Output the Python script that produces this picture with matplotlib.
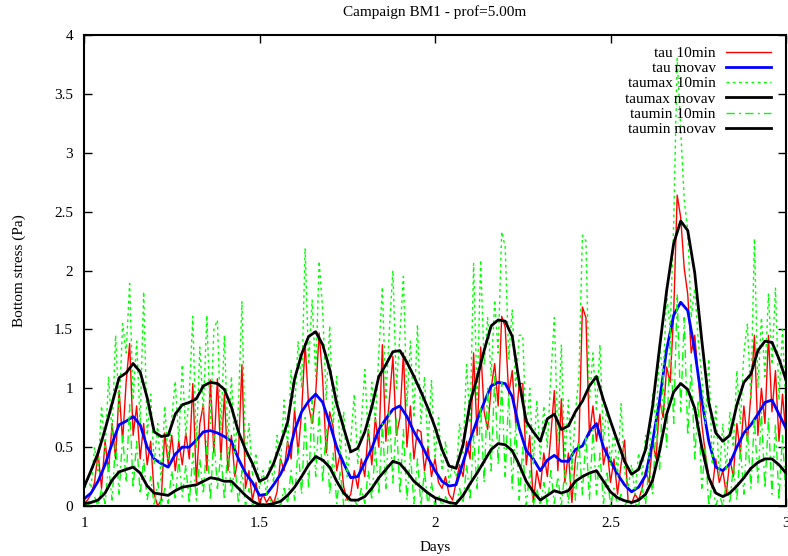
import numpy as np
import matplotlib
matplotlib.use("Agg")
import matplotlib.pyplot as plt

plt.rcParams['font.family'] = ['Liberation Serif', 'DejaVu Serif']

title = "Campaign BM1 - prof=5.00m"
xlabel = "Days"
ylabel = "Bottom stress (Pa)"

# 10-minute series sampled every 0.01 day from 1.00 to 3.00
days_10 = np.round(np.arange(1.00, 3.0001, 0.01), 2)

tau_10 = [
 0.02,0.05,0.10,0.20,0.45,0.15,0.55,0.30,0.70,0.40,
 0.98,0.55,1.05,1.38,0.60,0.85,0.40,0.70,0.35,0.55,
 0.10,0.00,0.05,0.62,0.35,0.60,0.30,0.55,0.35,0.62,
 0.40,1.04,0.20,0.70,0.86,0.30,1.07,0.45,1.08,0.40,
 0.95,0.30,0.60,0.25,0.45,1.20,0.15,0.30,0.05,0.20,
 0.02,0.10,0.03,0.08,0.02,0.12,0.40,0.30,0.55,0.40,
 0.82,0.45,0.80,1.38,0.85,0.70,0.95,1.47,1.07,0.45,
 0.80,0.67,0.30,0.45,0.16,0.05,0.10,0.30,0.15,0.40,
 0.25,0.65,0.35,0.75,0.50,1.37,0.55,0.90,1.27,0.60,
 0.75,1.30,0.50,0.85,0.40,0.65,0.63,0.30,0.50,0.25,
 0.40,0.20,0.15,0.25,0.10,0.05,0.20,0.35,0.25,0.55,
 0.40,1.30,0.60,1.35,0.80,0.65,1.00,1.21,0.85,1.61,
 1.52,0.95,1.15,0.70,1.04,1.04,0.35,0.60,0.03,0.30,
 0.15,0.45,0.25,0.60,0.98,0.30,0.91,0.20,0.45,0.03,
 0.40,0.55,1.69,1.60,0.60,0.85,0.55,0.78,0.35,0.50,
 0.20,0.40,0.10,0.35,0.56,0.05,0.02,0.10,0.05,0.15,
 0.30,0.20,0.55,0.40,0.90,0.75,1.18,1.05,1.64,2.64,
 2.45,2.02,1.80,1.30,1.45,1.10,0.70,0.45,0.25,0.15,
 0.40,0.20,0.30,0.10,0.40,0.25,0.70,0.45,0.85,0.55,
 0.95,1.45,0.60,1.00,0.70,1.45,0.80,1.15,0.55,0.95,
 0.60]

taumax_10 = [
 0.10,0.25,0.15,0.50,0.30,0.85,0.45,1.10,0.60,1.45,
 0.80,1.55,1.30,1.89,0.90,1.40,0.70,1.82,0.60,0.95,
 0.35,0.70,0.20,0.85,0.40,0.75,1.06,0.55,1.20,0.60,
 0.95,1.61,0.50,1.35,0.80,1.62,0.70,1.50,1.58,0.65,
 1.45,0.55,1.10,0.45,0.85,1.74,0.40,0.70,0.25,0.45,
 0.15,0.30,0.10,0.40,0.20,0.60,0.35,0.90,0.50,1.15,
 0.80,1.40,1.00,2.19,1.20,1.75,1.10,2.08,1.66,0.90,
 1.53,0.70,1.10,0.45,0.80,0.25,0.55,0.95,0.35,0.70,
 1.16,0.55,1.05,0.70,1.30,1.86,0.90,1.50,2.00,1.00,
 1.45,1.95,0.85,1.40,0.75,1.54,0.70,1.10,0.50,1.07,
 0.40,0.75,0.30,0.55,0.20,0.35,0.25,0.70,0.45,1.20,
 0.70,2.06,0.90,2.09,1.20,1.60,1.10,1.75,1.30,2.33,
 2.20,1.25,1.67,1.00,1.45,1.45,0.60,1.00,0.35,0.90,
 0.40,0.85,0.50,1.10,1.60,0.55,1.37,0.40,0.90,0.30,
 0.80,1.10,2.30,2.25,0.90,1.30,0.80,1.37,0.55,0.85,
 0.35,0.65,0.25,0.87,0.30,0.15,0.35,0.10,0.45,0.25,
 0.60,0.40,0.95,0.70,1.35,1.10,1.80,1.50,2.40,3.80,
 3.20,2.60,2.34,1.60,1.85,1.40,1.10,0.70,1.25,0.35,
 0.85,0.25,0.70,0.30,0.80,0.50,1.15,0.70,1.30,1.55,
 0.90,2.27,1.00,1.60,1.10,1.80,1.20,1.85,0.90,1.50,
 0.80]

taumin_10 = [
 0.00,0.02,0.00,0.08,0.00,0.15,0.02,0.35,0.05,0.55,
 0.10,0.60,0.20,0.86,0.15,0.55,0.10,0.40,0.05,0.25,
 0.00,0.20,0.00,0.15,0.02,0.30,0.05,0.40,0.08,0.35,
 0.02,0.45,0.05,0.40,0.10,0.55,0.05,0.60,0.15,0.45,
 0.05,0.50,0.10,0.35,0.02,0.30,0.00,0.15,0.00,0.05,
 0.00,0.02,0.00,0.05,0.00,0.08,0.00,0.15,0.02,0.30,
 0.05,0.50,0.10,0.75,0.15,0.90,0.25,0.80,0.20,0.65,
 0.10,0.45,0.02,0.30,0.00,0.10,0.00,0.05,0.00,0.15,
 0.02,0.30,0.05,0.50,0.10,0.70,0.15,0.80,0.20,0.75,
 0.10,0.65,0.05,0.45,0.02,0.40,0.00,0.30,0.00,0.20,
 0.00,0.10,0.00,0.08,0.00,0.02,0.00,0.15,0.02,0.35,
 0.05,0.60,0.15,0.85,0.20,1.00,0.30,1.10,0.35,1.05,
 0.25,0.95,0.15,0.70,0.05,0.50,0.00,0.30,0.00,0.15,
 0.00,0.20,0.00,0.30,0.02,0.25,0.00,0.30,0.02,0.40,
 0.05,0.55,0.10,0.60,0.05,0.65,0.10,0.45,0.02,0.30,
 0.00,0.15,0.00,0.10,0.00,0.05,0.00,0.02,0.00,0.15,
 0.02,0.35,0.10,0.70,0.30,1.10,0.50,1.50,0.70,1.80,
 0.80,1.60,0.60,1.20,0.40,0.90,0.15,0.50,0.00,0.20,
 0.00,0.10,0.00,0.20,0.02,0.35,0.05,0.50,0.10,0.65,
 0.15,0.75,0.20,0.80,0.15,0.75,0.10,0.70,0.05,0.60,
 0.05]

# moving averages sampled every 0.02 day from 1.00 to 3.00
days_mv = np.round(np.arange(1.00, 3.0001, 0.02), 2)

tau_mv = [
 0.06,0.11,0.21,0.35,0.53,0.69,0.72,0.76,0.69,0.50,
 0.40,0.36,0.33,0.44,0.50,0.50,0.56,0.63,0.64,0.62,
 0.59,0.55,0.40,0.28,0.20,0.09,0.10,0.18,0.27,0.40,
 0.64,0.80,0.89,0.95,0.88,0.70,0.50,0.36,0.24,0.25,
 0.37,0.49,0.65,0.74,0.82,0.85,0.76,0.63,0.53,0.41,
 0.30,0.21,0.17,0.18,0.37,0.56,0.73,0.88,1.02,1.05,
 1.04,0.93,0.66,0.47,0.40,0.30,0.39,0.43,0.38,0.38,
 0.48,0.51,0.63,0.70,0.50,0.38,0.27,0.18,0.12,0.16,
 0.26,0.55,0.90,1.33,1.62,1.73,1.66,1.32,0.90,0.55,
 0.33,0.30,0.36,0.50,0.62,0.69,0.78,0.88,0.90,0.78,
 0.66]

taumax_mv = [
 0.16,0.30,0.45,0.65,0.87,1.09,1.13,1.21,1.14,0.92,
 0.63,0.59,0.60,0.78,0.86,0.88,0.91,1.02,1.05,1.04,
 0.99,0.84,0.63,0.48,0.36,0.21,0.24,0.36,0.53,0.71,
 1.08,1.29,1.44,1.48,1.37,1.16,0.87,0.66,0.46,0.49,
 0.63,0.84,1.10,1.20,1.31,1.32,1.22,1.10,0.97,0.83,
 0.67,0.48,0.34,0.32,0.52,0.88,1.09,1.32,1.53,1.58,
 1.57,1.44,1.05,0.72,0.63,0.55,0.74,0.78,0.65,0.68,
 0.80,0.89,1.02,1.10,0.90,0.72,0.55,0.38,0.27,0.31,
 0.48,0.85,1.35,1.83,2.23,2.42,2.34,1.98,1.41,0.88,
 0.62,0.55,0.60,0.86,1.05,1.12,1.32,1.40,1.39,1.25,
 1.07]

taumin_mv = [
 0.02,0.03,0.05,0.11,0.22,0.29,0.31,0.33,0.28,0.17,
 0.11,0.10,0.09,0.13,0.16,0.17,0.18,0.21,0.24,0.23,
 0.21,0.21,0.15,0.09,0.04,0.01,0.01,0.02,0.04,0.09,
 0.16,0.25,0.35,0.42,0.39,0.33,0.21,0.11,0.05,0.05,
 0.08,0.15,0.24,0.31,0.38,0.36,0.29,0.21,0.16,0.11,
 0.07,0.05,0.03,0.02,0.09,0.19,0.28,0.38,0.48,0.53,
 0.52,0.47,0.35,0.21,0.12,0.05,0.09,0.13,0.11,0.13,
 0.21,0.25,0.28,0.30,0.21,0.12,0.07,0.045,0.03,0.05,
 0.10,0.22,0.47,0.78,0.97,1.04,0.99,0.83,0.50,0.24,
 0.11,0.08,0.11,0.17,0.24,0.32,0.37,0.40,0.40,0.35,
 0.28]

labels = ["tau 10min", "tau movav", "taumax 10min", "taumax movav",
          "taumin 10min", "taumin movav"]

xticks = [1, 1.5, 2, 2.5, 3]
xtick_labels = ["1", "1.5", "2", "2.5", "3"]
yticks = [0, 0.5, 1, 1.5, 2, 2.5, 3, 3.5, 4]
ytick_labels = ["0", "0.5", "1", "1.5", "2", "2.5", "3", "3.5", "4"]

fig = plt.figure(figsize=(7.88, 5.56), dpi=100)
ax = fig.add_axes([84/788, 50/556, (786-84)/788, (506-35)/556])

ax.plot(days_10, tau_10, color='#ff0000', lw=1.0, label=labels[0])
ax.plot(days_mv, tau_mv, color='#0000ff', lw=2.0, label=labels[1])
ax.plot(days_10, taumax_10, color='#00ff00', lw=1.0, linestyle=(0, (2, 2.5)), label=labels[2])
ax.plot(days_mv, taumax_mv, color='black', lw=2.0, label=labels[3])
ax.plot(days_10, taumin_10, color='#00ff00', lw=1.0, linestyle=(0, (6, 3, 1.5, 3)), label=labels[4])
ax.plot(days_mv, taumin_mv, color='black', lw=2.0, label=labels[5])

ax.set_xlim(1, 3)
ax.set_ylim(0, 4)
ax.set_xticks(xticks)
ax.set_xticklabels(xtick_labels)
ax.set_yticks(yticks)
ax.set_yticklabels(ytick_labels)
ax.tick_params(direction='in', length=6, width=1, top=True, right=True,
               labelsize=11, pad=8)
for s in ax.spines.values():
    s.set_linewidth(1.5)

ax.set_title(title, fontsize=11, pad=14)
ax.set_xlabel(xlabel, fontsize=11, labelpad=8)
ax.set_ylabel(ylabel, fontsize=11, labelpad=20)

leg = ax.legend(loc='upper right', bbox_to_anchor=(0.978, 0.976), frameon=False,
                markerfirst=False, fontsize=11, handlelength=2.9,
                handletextpad=0.7, labelspacing=0.1, borderpad=0,
                borderaxespad=0)

fig.savefig("out.png", dpi=100)
